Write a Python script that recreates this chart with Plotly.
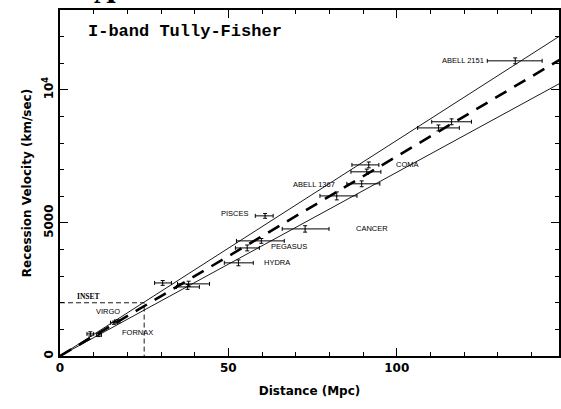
import plotly.graph_objects as go

# ---- data ----
dist = [135.2, 116.3, 112.4, 91.7, 91.1, 89.6, 82.2, 72.8, 60.9, 59.8, 55.6, 53.0, 30.5, 38.2, 37.9,
        9.0, 11.5, 16.0, 17.0]
vel = [11090, 8800, 8570, 7180, 6920, 6470, 6015, 4775, 5265, 4325, 4060, 3500, 2745, 2710, 2595,
       830, 790, 1250, 1300]
dist_lo = [126.9, 110.4, 106.2, 86.7, 86.4, 85.2, 77.2, 66.0, 58.0, 52.4, 52.1, 48.8, 28.1, 34.9, 34.6,
           8.0, 10.8, 15.0, 16.2]
dist_hi = [143.2, 122.2, 118.6, 94.7, 95.3, 95.0, 88.2, 79.9, 63.3, 66.6, 59.2, 57.4, 33.1, 44.4, 41.4,
           10.0, 12.3, 17.0, 17.8]
vel_err = [110, 110, 110, 110, 100, 110, 150, 120, 90, 90, 110, 110, 90, 100, 90,
           80, 60, 60, 60]

label_text = ["ABELL 2151", "COMA", "ABELL 1367", "PISCES", "CANCER", "PEGASUS", "HYDRA", "VIRGO", "FORNAX"]
label_d = [126.6, 99.1, 82.2, 56.8, 87.3, 62.1, 60.1, 10.1, 17.8]
label_v = [11090, 7180, 6430, 5340, 4775, 4100, 3530, 1690, 900]
label_anchor = ["right", "left", "right", "right", "left", "left", "left", "left", "left"]

H0 = 75
H_hi = 81
H_lo = 69
line_d = [0, 150]

inset_d = 25
inset_v = 2000

x_range = [0, 148.2]
y_range = [0, 13000]
y_tickvals = [0, 5000, 10000]
y_ticktext = ["0", "5000", "10<sup>4</sup>"]
x_tickvals = [0, 50, 100]

fig = go.Figure()

# envelope lines
for h in [H_hi, H_lo]:
    fig.add_trace(go.Scatter(x=line_d, y=[h * d for d in line_d], mode="lines",
                             line=dict(color="black", width=0.9), hoverinfo="skip", showlegend=False))
# best-fit dashed
fig.add_trace(go.Scatter(x=line_d, y=[H0 * d for d in line_d], mode="lines",
                         line=dict(color="black", width=2.6, dash="13px,9px"),
                         hoverinfo="skip", showlegend=False))

# inset box
fig.add_trace(go.Scatter(x=[0, inset_d, inset_d], y=[inset_v, inset_v, 0], mode="lines",
                         line=dict(color="black", width=0.9, dash="5px,3px"),
                         hoverinfo="skip", showlegend=False))

# data points with error bars
fig.add_trace(go.Scatter(
    x=dist, y=vel, mode="markers",
    marker=dict(size=1, color="black"),
    error_x=dict(type="data", symmetric=False,
                 array=[h - d for h, d in zip(dist_hi, dist)],
                 arrayminus=[d - l for d, l in zip(dist, dist_lo)],
                 color="black", thickness=1, width=2),
    error_y=dict(type="data", array=vel_err, color="black", thickness=1, width=2),
    showlegend=False))

annos = []
for t, d, v, a in zip(label_text, label_d, label_v, label_anchor):
    annos.append(dict(x=d, y=v, text=t, xanchor=a, yanchor="middle", showarrow=False,
                      font=dict(family="Liberation Sans", size=7.5, color="black")))
annos.append(dict(x=4.4, y=2220, text="INSET", xanchor="left", yanchor="middle", showarrow=False,
                  font=dict(family="Liberation Serif", size=7.5, color="black", weight="bold")))
annos.append(dict(xref="paper", yref="paper", x=0.052, y=0.939, text="I-band Tully-Fisher",
                  xanchor="left", yanchor="middle", showarrow=False,
                  font=dict(family="Liberation Mono", size=17, color="black", weight="bold")))
annos.append(dict(xref="paper", yref="paper", x=(92 - 60) / 501, y=1, text="A",
                  xanchor="left", yanchor="bottom", yshift=-1, showarrow=False,
                  font=dict(family="Liberation Serif", size=30, color="black", weight="bold")))

axis_font = dict(family="DejaVu Sans", size=12, color="black", weight="bold")

fig.update_layout(
    width=561, height=409,
    margin=dict(l=60, r=0, t=10, b=53),
    paper_bgcolor="white", plot_bgcolor="white",
    font=dict(family="DejaVu Sans", color="black"),
    annotations=annos,
    xaxis=dict(range=x_range, tickvals=x_tickvals, ticks="inside", ticklen=8, tickwidth=1.3,
               tickcolor="black", showline=True, linecolor="black", linewidth=1.5, mirror="ticks",
               showgrid=False, zeroline=False, tickfont=axis_font,
               minor=dict(dtick=10, tick0=0, ticks="inside", ticklen=4, tickwidth=1.3, tickcolor="black",
                          showgrid=False),
               title=dict(text="Distance (Mpc)", font=axis_font, standoff=12)),
    yaxis=dict(range=y_range, tickvals=y_tickvals, ticktext=y_ticktext, tickangle=-90,
               ticks="inside", ticklen=8, tickwidth=1.3, tickcolor="black",
               showline=True, linecolor="black", linewidth=1.5, mirror="ticks",
               showgrid=False, zeroline=False, tickfont=axis_font,
               minor=dict(dtick=1000, tick0=0, ticks="inside", ticklen=4, tickwidth=1.3, tickcolor="black",
                          showgrid=False),
               title=dict(text="Recession Velocity (km/sec)", font=axis_font, standoff=6)),
)

fig.write_html("out.html")
